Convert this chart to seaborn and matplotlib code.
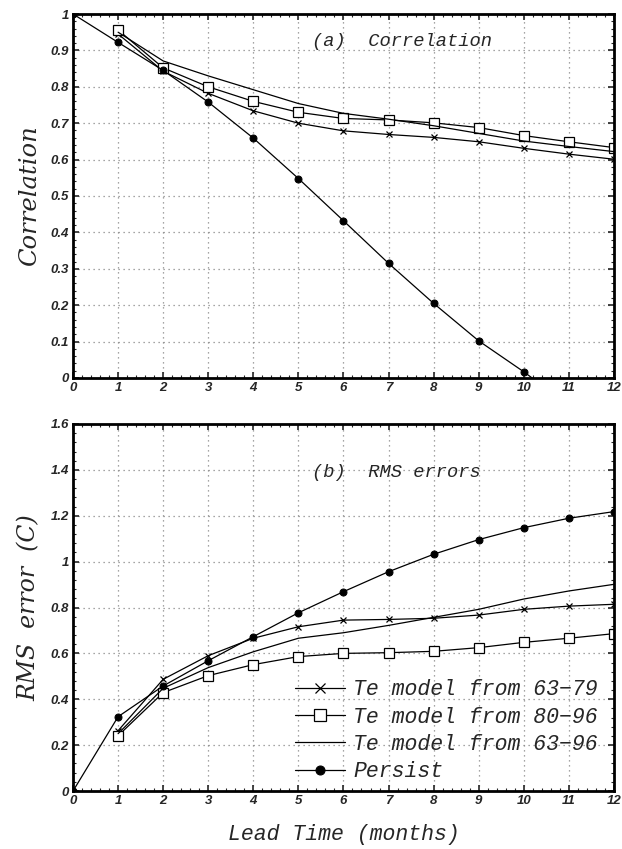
import numpy as np
import pandas as pd
import matplotlib
matplotlib.use("Agg")
import matplotlib.pyplot as plt
import seaborn as sns
from matplotlib.ticker import MultipleLocator, FuncFormatter

# ---- data ----
lead = list(range(0, 13))
lead_m = list(range(1, 13))

corr_persist = [1.0, 0.922, 0.845, 0.758, 0.659, 0.548, 0.432, 0.315, 0.205, 0.102, 0.017, -0.075, -0.165]
corr_6379 = [0.945, 0.843, 0.782, 0.734, 0.700, 0.679, 0.669, 0.661, 0.649, 0.631, 0.615, 0.601]
corr_8096 = [0.956, 0.852, 0.800, 0.760, 0.730, 0.713, 0.709, 0.701, 0.688, 0.666, 0.649, 0.633]
corr_6396 = [0.950, 0.871, 0.830, 0.792, 0.754, 0.727, 0.711, 0.693, 0.672, 0.651, 0.636, 0.622]

rms_persist = [0.0, 0.324, 0.458, 0.568, 0.673, 0.777, 0.869, 0.956, 1.032, 1.096, 1.148, 1.189, 1.218]
rms_6379 = [0.263, 0.487, 0.590, 0.666, 0.716, 0.745, 0.748, 0.753, 0.767, 0.792, 0.806, 0.814]
rms_8096 = [0.241, 0.429, 0.503, 0.551, 0.586, 0.600, 0.603, 0.609, 0.625, 0.648, 0.666, 0.686]
rms_6396 = [0.250, 0.448, 0.538, 0.607, 0.666, 0.690, 0.722, 0.757, 0.792, 0.837, 0.872, 0.901]

labels = ["Te model from 63\u221279", "Te model from 80\u221296",
          "Te model from 63\u221296", "Persist"]

sns.set_theme(style="white")
plt.rcParams['font.family'] = ['DejaVu Sans']

fig = plt.figure(figsize=(6.22, 8.49), dpi=100)
ax1 = fig.add_axes([0.1174, 0.5548, 0.8696, 0.4287])
ax2 = fig.add_axes([0.1174, 0.0683, 0.8696, 0.4323])

mono_it = dict(family=['Liberation Mono'], style='italic')
serif_it = dict(family=['DejaVu Serif'], style='italic')


def draw(ax, persist, s1, s2, s3):
    sns.lineplot(x=lead_m, y=s1, ax=ax, color='black', lw=0.9, marker='x',
                 markersize=5, markeredgewidth=0.9, markeredgecolor='black',
                 label=labels[0])
    sns.lineplot(x=lead_m, y=s2, ax=ax, color='black', lw=0.9, marker='s',
                 markersize=7, markerfacecolor='white', markeredgecolor='black',
                 markeredgewidth=0.9, label=labels[1])
    sns.lineplot(x=lead_m, y=s3, ax=ax, color='black', lw=0.9, label=labels[2])
    sns.lineplot(x=lead, y=persist, ax=ax, color='black', lw=0.9, marker='o',
                 markersize=5, markerfacecolor='black', markeredgecolor='black',
                 label=labels[3])


def style(ax, ymax, ystep):
    ax.set_xlim(0, 12)
    ax.set_ylim(0, ymax)
    ax.xaxis.set_major_locator(MultipleLocator(1))
    ax.yaxis.set_major_locator(MultipleLocator(ystep))
    ax.xaxis.set_minor_locator(MultipleLocator(0.2))
    ax.yaxis.set_minor_locator(MultipleLocator(ystep / 5))
    ax.yaxis.set_major_formatter(FuncFormatter(
        lambda v, p: ('%.1f' % v).rstrip('0').rstrip('.') if abs(v) > 1e-9 else '0'))
    ax.grid(True, which='major', color='#888888', linestyle=(0, (1, 3)), lw=0.9)
    for s in ax.spines.values():
        s.set_linewidth(2.0)
        s.set_color('black')
    ax.tick_params(which='major', direction='in', length=4, width=1.2, pad=3,
                   top=True, right=True, bottom=True, left=True)
    ax.tick_params(which='minor', direction='in', length=2, width=0.8,
                   top=True, right=True, bottom=True, left=True)
    for lab in ax.get_xticklabels() + ax.get_yticklabels():
        lab.set_fontfamily(['Liberation Sans'])
        lab.set_fontstyle('italic')
        lab.set_fontweight('bold')
        lab.set_fontsize(9.5)


draw(ax1, corr_persist, corr_6379, corr_8096, corr_6396)
ax1.get_legend().remove()
style(ax1, 1.0, 0.1)
ax1.set_ylabel('Correlation', fontsize=17.5, labelpad=7, **serif_it)
ax1.set_xlabel('')
ax1.text(5.3, 0.925, '(a)  Correlation', fontsize=13.5, va='center', ha='left', **mono_it)

draw(ax2, rms_persist, rms_6379, rms_8096, rms_6396)
style(ax2, 1.6, 0.2)
ax2.set_ylabel('RMS  error  (C)', fontsize=17, labelpad=7, **serif_it)
ax2.set_xlabel('Lead Time (months)', fontsize=15.5, labelpad=12, **mono_it)
ax2.text(5.3, 1.39, '(b)  RMS errors', fontsize=13.5, va='center', ha='left', **mono_it)

leg = ax2.legend(loc='lower right', bbox_to_anchor=(0.99, -0.005), frameon=False,
                 handlelength=2.3, handletextpad=0.4, labelspacing=0.29,
                 borderaxespad=0.1, markerscale=1.3,
                 prop=dict(family='Liberation Mono', style='italic', size=15.5))

fig.savefig('out.png', dpi=100)
